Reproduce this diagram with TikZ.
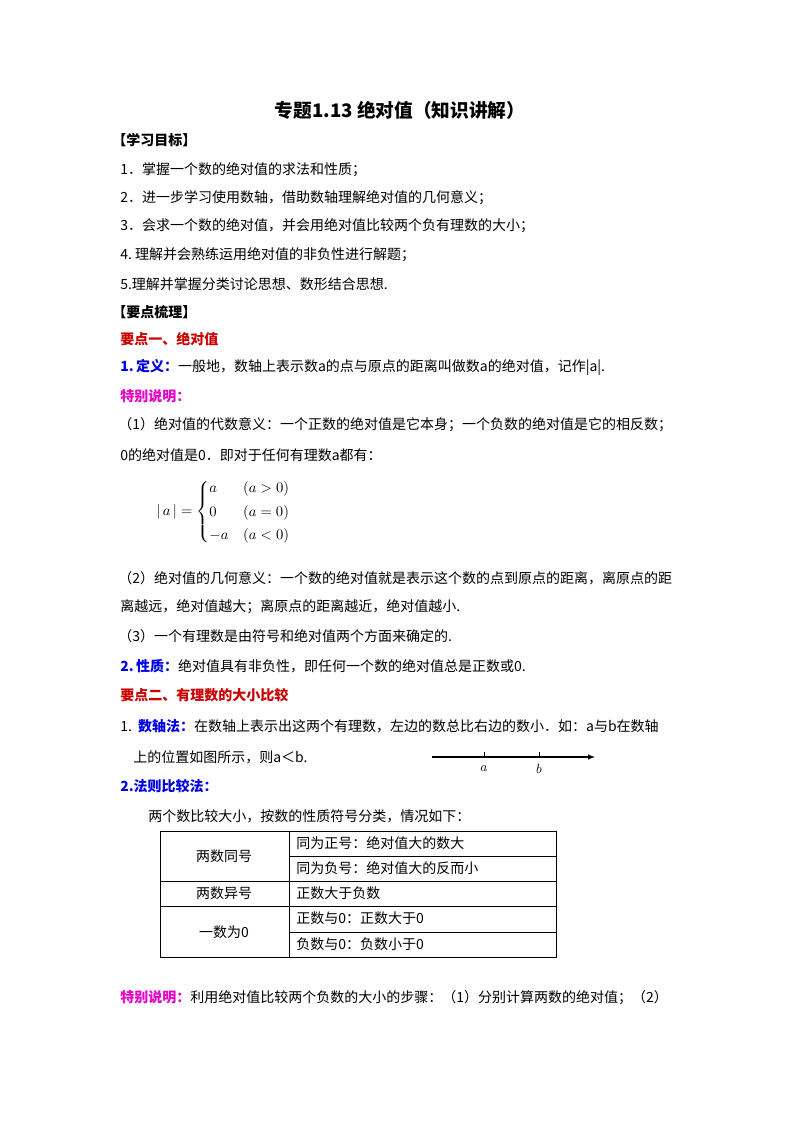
\documentclass[tikz,border=0pt]{standalone}
\usepackage{fontspec}
\usepackage{amsmath}
\setmainfont{Noto Sans CJK SC}
\definecolor{hred}{RGB}{204,0,0}
\definecolor{hblue}{RGB}{0,0,230}
\definecolor{hmag}{RGB}{230,0,200}
\begin{document}
\begin{tikzpicture}[x=0.75pt,y=-0.75pt,
  t/.style={anchor=west,inner sep=0pt,font=\fontsize{10.5}{12}\selectfont},
  tb/.style={t,font=\fontsize{10.5}{12}\selectfont\bfseries},
  cell/.style={inner sep=0pt,font=\fontsize{10.5}{12}\selectfont}]
\useasboundingbox[fill=white] (0,0) rectangle (800,1132);
\node[font=\fontsize{14}{16}\selectfont\bfseries,inner sep=0pt] (title) at (400,110) {专题1.13 绝对值（知识讲解）};
\node[tb] (h1) at (112,140) {【学习目标】};
\node[t] (l1) at (120,170) {1．掌握一个数的绝对值的求法和性质；};
\node[t] (l2) at (120,198) {2．进一步学习使用数轴，借助数轴理解绝对值的几何意义；};
\node[t] (l3) at (120,226) {3．会求一个数的绝对值，并会用绝对值比较两个负有理数的大小；};
\node[t] (l4) at (120,255) {4.\ 理解并会熟练运用绝对值的非负性进行解题；};
\node[t] (l5) at (120,284) {5.理解并掌握分类讨论思想、数形结合思想.};
\node[tb] (h2) at (112,312) {【要点梳理】};
\node[tb,text=hred] (k1) at (120,339) {要点一、绝对值};
\node[t] (d1) at (120,367) {\textcolor{hblue}{\bfseries 1.\,定义：}一般地，数轴上表示数a的点与原点的距离叫做数a的绝对值，记作|a|.};
\node[tb,text=hmag] (s1) at (120,396) {特别说明：};
\node[t] (p1) at (118,425) {（1）绝对值的代数意义：一个正数的绝对值是它本身；一个负数的绝对值是它的相反数；};
\node[t] (p1b) at (120,455) {0的绝对值是0．即对于任何有理数a都有：};
\node[anchor=west,inner sep=0pt,font=\fontsize{11}{13}\selectfont] (f) at (156,512)
  {$\lvert\,a\,\rvert=\begin{cases}a & (a>0)\\[2pt] 0 & (a=0)\\[2pt] -a & (a<0)\end{cases}$};
\node[t] (p2) at (118,578) {（2）绝对值的几何意义：一个数的绝对值就是表示这个数的点到原点的距离，离原点的距};
\node[t] (p2b) at (120,607) {离越远，绝对值越大；离原点的距离越近，绝对值越小.};
\node[t] (p3) at (118,636) {（3）一个有理数是由符号和绝对值两个方面来确定的.};
\node[t] (xz) at (120,666) {\textcolor{hblue}{\bfseries 2.\,性质：}绝对值具有非负性，即任何一个数的绝对值总是正数或0.};
\node[tb,text=hred] (k2) at (120,695) {要点二、有理数的大小比较};
\node[t] (m1) at (120,726) {1.\ \ \textcolor{hblue}{\bfseries 数轴法：}在数轴上表示出这两个有理数，左边的数总比右边的数小．如：a与b在数轴};
\node[t] (m1b) at (133,757) {上的位置如图所示，则a＜b.};
\coordinate (nl0) at (432,757);
\coordinate (nl1) at (595,757);
\draw[-latex,line width=0.8pt] (nl0) -- (nl1);
\coordinate (ta) at (484,757);
\coordinate (tbb) at (539,757);
\draw (ta) -- ++(0,-5);
\draw (tbb) -- ++(0,-5);
\node[inner sep=0pt,font=\fontsize{10}{12}\selectfont] (la) at (484,769) {$a$};
\node[inner sep=0pt,font=\fontsize{10}{12}\selectfont] (lb) at (539,769) {$b$};
\node[tb,text=hblue] (m2) at (120,786) {2.法则比较法：};
\node[t] (m2b) at (148,816) {两个数比较大小，按数的性质符号分类，情况如下：};
% table
\draw[line width=0.6pt] (160,831) rectangle (556,957);
\draw (289,831) -- (289,957);
\draw (289,856) -- (556,856);
\draw (160,881) -- (556,881);
\draw (160,906) -- (556,906);
\draw (289,932) -- (556,932);
\node[cell] (c1) at (224,856) {两数同号};
\node[cell,anchor=west] (c2) at (296,843) {同为正号：绝对值大的数大};
\node[cell,anchor=west] (c3) at (296,868) {同为负号：绝对值大的反而小};
\node[cell] (c4) at (224,893) {两数异号};
\node[cell,anchor=west] (c5) at (296,893) {正数大于负数};
\node[cell] (c6) at (224,932) {一数为0};
\node[cell,anchor=west] (c7) at (296,918) {正数与0：正数大于0};
\node[cell,anchor=west] (c8) at (296,944) {负数与0：负数小于0};
\node[t] (last) at (120,998) {\textcolor{hmag}{\bfseries 特别说明：}利用绝对值比较两个负数的大小的步骤：（1）分别计算两数的绝对值；（2）};
\end{tikzpicture}
\end{document}
